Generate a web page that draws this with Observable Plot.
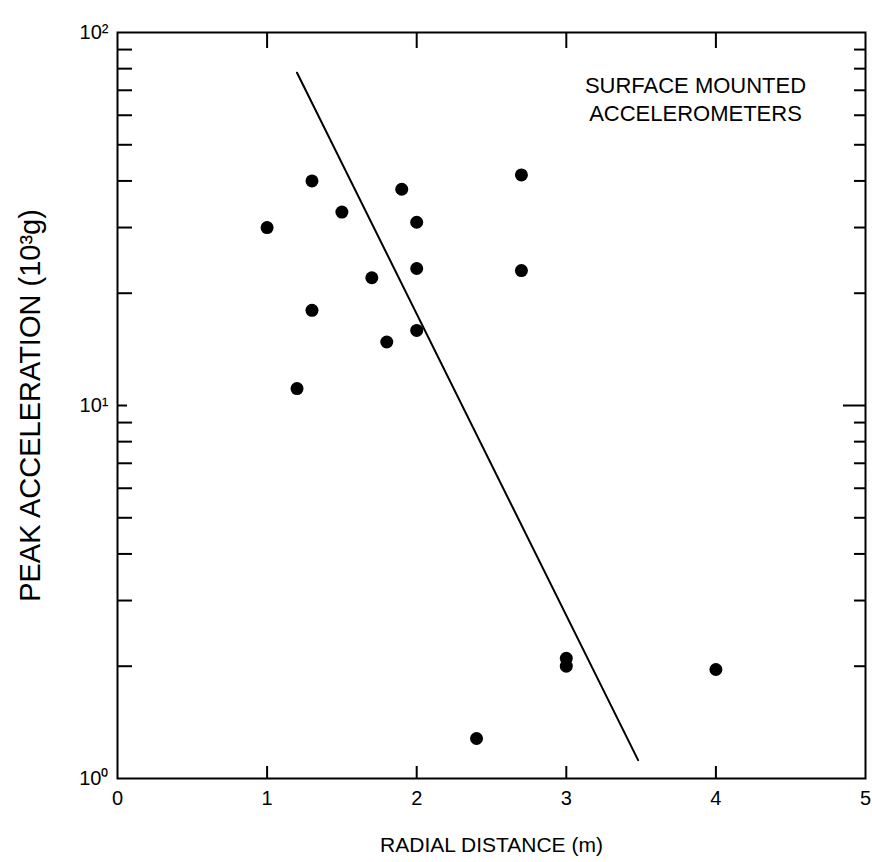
<!DOCTYPE html>
<html>
<head>
<meta charset="utf-8">
<script src="https://cdn.jsdelivr.net/npm/d3@7"></script>
<script src="https://cdn.jsdelivr.net/npm/@observablehq/plot@0.6"></script>
<style>
  html, body { margin: 0; padding: 0; background: #fff; }
</style>
</head>
<body>
<div id="chart"></div>
<script>
// Data
const distance = [1.0, 1.3, 1.5, 1.9, 2.0, 1.7, 2.0, 1.3, 1.8, 2.0, 1.2, 2.7, 2.7, 3.0, 3.0, 4.0, 2.4];
const accel    = [30, 40, 33, 38, 31, 22, 23.3, 18, 14.8, 15.9, 11.1, 41.5, 23, 2.1, 2.0, 1.96, 1.28];
const fitX = [1.2, 3.48];
const fitY = [78, 1.12];
const xTicks = [0, 1, 2, 3, 4, 5];
const xInnerTicks = [1, 2, 3, 4];
const yTickValues = [1, 10, 100];
const yTickLabels = ["10⁰", "10¹", "10²"];
const yMinorTicks = [2, 3, 4, 5, 6, 7, 8, 9, 20, 30, 40, 50, 60, 70, 80, 90];
const yMajorInner = [10];
const noteLines = ["SURFACE MOUNTED", "ACCELEROMETERS"];
const xLabel = "RADIAL DISTANCE (m)";
const yLabel = "PEAK ACCELERATION (10³g)";

const points = distance.map((d, i) => ({x: d, y: accel[i]}));
const fit = fitX.map((x, i) => ({x, y: fitY[i]}));

const chart = Plot.plot({
  width: 872,
  height: 862,
  marginLeft: 117,
  marginRight: 7,
  marginTop: 32,
  marginBottom: 84,
  style: {
    fontFamily: "'Liberation Sans', Arial, Helvetica, sans-serif",
    fontSize: "18px",
    color: "#000",
    background: "#fff"
  },
  x: {domain: [0, 5]},
  y: {type: "log", domain: [1, 100]},
  marks: [
    Plot.frame({stroke: "#000", strokeWidth: 2}),
    Plot.axisX(xTicks, {anchor: "bottom", tickSize: 0, tickPadding: 12, fontSize: 20,
      tickFormat: d => String(d), label: null}),
    Plot.axisY(yTickValues, {anchor: "left", tickSize: 0, tickPadding: 9, fontSize: 20,
      tickFormat: d => yTickLabels[yTickValues.indexOf(d)], label: null}),
    Plot.axisX(xInnerTicks, {anchor: "bottom", tickSize: -12, strokeWidth: 2, fill: "none", label: null}),
    Plot.axisX(xInnerTicks, {anchor: "top", tickSize: -15, strokeWidth: 2, fill: "none", label: null}),
    Plot.axisY(yMinorTicks, {anchor: "left", tickSize: -15, strokeWidth: 2, fill: "none", label: null}),
    Plot.axisY(yMajorInner, {anchor: "left", tickSize: -10, strokeWidth: 2, fill: "none", label: null}),
    Plot.axisY(yMinorTicks, {anchor: "right", tickSize: -12, strokeWidth: 2, fill: "none", label: null}),
    Plot.axisY(yMajorInner, {anchor: "right", tickSize: -23, strokeWidth: 2, fill: "none", label: null}),
    Plot.line(fit, {x: "x", y: "y", stroke: "#000", strokeWidth: 2}),
    Plot.dot(points, {x: "x", y: "y", r: 6.5, fill: "#000", stroke: "none"}),
    Plot.text([noteLines.join("\n")], {frameAnchor: "top-right", dx: -170, dy: 40,
      textAnchor: "middle", lineAnchor: "top", lineHeight: 1.3, fontSize: 22, fill: "#000"}),
    Plot.text([xLabel], {frameAnchor: "bottom", dy: 67, lineAnchor: "middle", fontSize: 21, fill: "#000"}),
    Plot.text([yLabel], {frameAnchor: "left", dx: -87, rotate: -90, lineAnchor: "middle",
      textAnchor: "middle", fontSize: 29, fill: "#000"})
  ]
});
document.getElementById("chart").appendChild(chart);
</script>
</body>
</html>
